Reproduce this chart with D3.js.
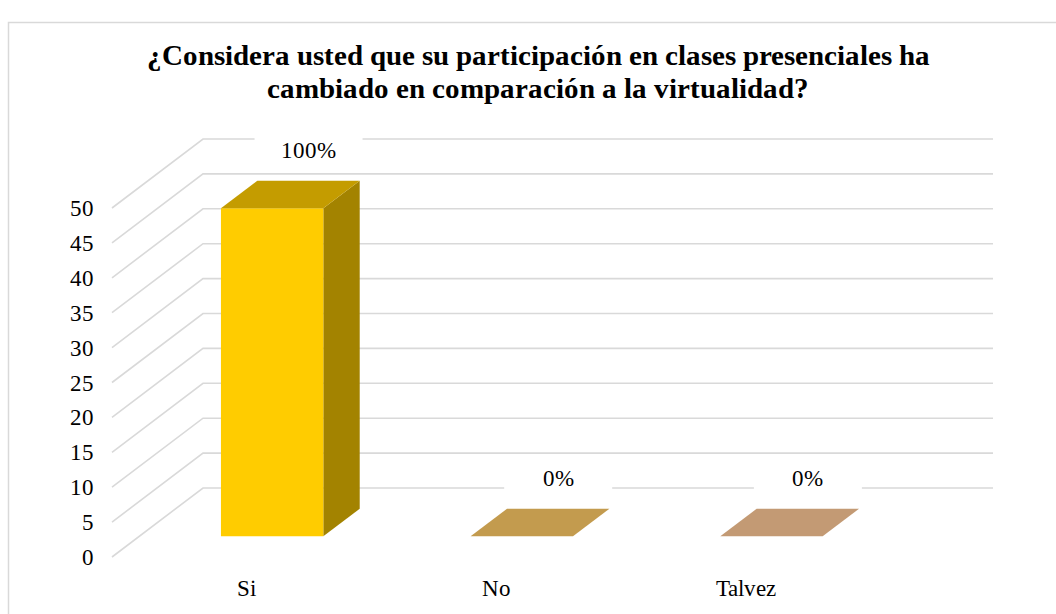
<!DOCTYPE html>
<html>
<head>
<meta charset="utf-8">
<script src="https://cdn.jsdelivr.net/npm/d3@7"></script>
<style>
  @font-face { font-family: "ChartSerif"; src: local("Liberation Serif"), local("LiberationSerif"), local("LiberationSerif-Regular"); font-weight: normal; }
  @font-face { font-family: "ChartSerif"; src: local("Liberation Serif Bold"), local("LiberationSerif-Bold"); font-weight: bold; }
</style>
</head>
<body style="margin:0;background:#fff">
<div id="wrap" style="position:relative;width:1056px;height:614px;overflow:hidden">
  <svg id="chart" width="1056" height="614" style="position:absolute;left:0;top:0"></svg>
</div>
<script>
// data
const categories = ["Si", "No", "Talvez"];
const values = [47, 0, 0];
const valueLabels = ["100%", "0%", "0%"];
const yTicks = [0, 5, 10, 15, 20, 25, 30, 35, 40, 45, 50];
const titleLines = [
  "¿Considera usted que su participación en clases presenciales ha",
  "cambiado en comparación a la virtualidad?"
];

// colours per bar: front, top, side
const frontColors = ["#ffcc00", "#c39b4e", "#c39a74"];
const topColors = ["#c49c00", "#c39b4e", "#c39a74"];
const sideColors = ["#a38300", "#a8823c", "#a8825f"];

const wrap = d3.select("#wrap");
const svg = d3.select("#chart");

// text as html
function label(x, y, txt, anchor, extra) {
  const tx = anchor === "end" ? "-100%" : "-50%";
  return wrap.append("div")
    .attr("style",
      "position:absolute;font-family:ChartSerif,'Liberation Serif',serif;font-size:23px;line-height:1;" +
      "white-space:nowrap;color:#000;left:" + x + "px;top:" + y + "px;" +
      "transform:translate(" + tx + ",-50%);" + (extra || ""))
    .text(txt);
}

// oblique 3d: depth vector from front plane to back wall
const depth = { dx: 91, dy: -69 };
const wallLeft = 112;
const gridRight = 993;
const barDepth = [0.3, 0.7];

const y = d3.scaleLinear().domain([0, 50]).range([557, 208]);
const x = d3.scaleBand()
  .domain(categories)
  .range([120, 869])
  .paddingInner(0.59)
  .paddingOuter(0.295);

// frame
svg.append("rect")
  .attr("x", 8.5).attr("y", 22.5)
  .attr("width", 1200).attr("height", 800)
  .attr("fill", "none")
  .attr("stroke", "#d9d9d9")
  .attr("stroke-width", 1.5);

// title
titleLines.forEach((t, i) => {
  label(538, 55 + i * 33, t, "middle", "font-weight:bold;font-size:29px;");
});

// gridlines: left wall diagonals + back wall horizontals
svg.append("g")
  .attr("stroke", "#d9d9d9")
  .attr("stroke-width", 1.6)
  .attr("fill", "none")
  .selectAll("path")
  .data(yTicks)
  .join("path")
  .attr("d", v => {
    const y0 = y(v);
    return `M${wallLeft},${y0}L${wallLeft + depth.dx},${y0 + depth.dy}L${gridRight},${y0 + depth.dy}`;
  });

// y tick labels
yTicks.forEach(v => label(94, y(v), v, "end"));

// bars
const pt = (px, py, t) => [px + t * depth.dx, py + t * depth.dy];

categories.forEach((c, i) => {
  const g = svg.append("g");
  const x0 = x(c), x1 = x(c) + x.bandwidth();
  const yb = y(0), yt = y(values[i]);
  const [d0, d1] = barDepth;

  const fTL = pt(x0, yt, d0), fTR = pt(x1, yt, d0), fBR = pt(x1, yb, d0), fBL = pt(x0, yb, d0);
  const bTL = pt(x0, yt, d1), bTR = pt(x1, yt, d1), bBR = pt(x1, yb, d1);

  if (values[i] > 0) {
    g.append("polygon")
      .attr("points", [fTR, bTR, bBR, fBR].join(" "))
      .attr("fill", sideColors[i]);
    g.append("polygon")
      .attr("points", [fTL, fTR, fBR, fBL].join(" "))
      .attr("fill", frontColors[i]);
  }
  g.append("polygon")
    .attr("points", [fTL, fTR, bTR, bTL].join(" "))
    .attr("fill", topColors[i]);

  // data label with white box
  const lx = (bTL[0] + bTR[0]) / 2;
  const ly = bTL[1] - 31;
  g.append("rect")
    .attr("x", lx - 54).attr("y", ly - 17)
    .attr("width", 108).attr("height", 34)
    .attr("fill", "#fff");
  label(lx, ly, valueLabels[i]);

  // category label, centred on the front edge of the floor
  label((x0 + x1) / 2 + 2, 588, c);
});
</script>
</body>
</html>
